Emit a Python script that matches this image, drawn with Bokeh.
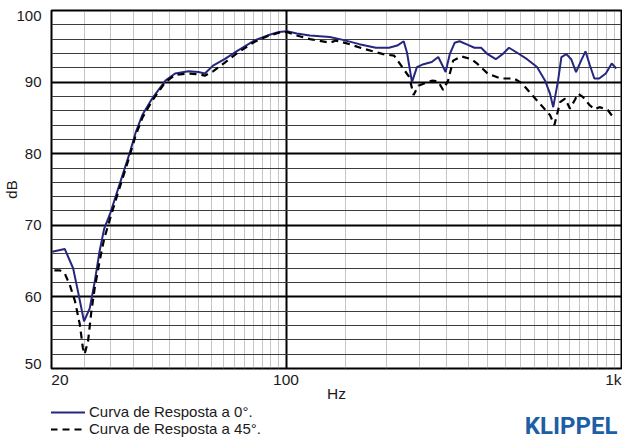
from bokeh.plotting import figure
from bokeh.layouts import column
from bokeh.models import FixedTicker, Legend, LegendItem, Range1d, Label
from bokeh.embed import file_html
from bokeh.resources import INLINE

# ---- data ----
freq_0 = [20.1, 21.9, 23.2, 24.0, 25.0, 26.0, 26.9, 27.8, 28.7, 30.0, 31.8, 34.1, 35.6,
          37.3, 39.9, 43.7, 46.7, 51.2, 54.8, 57.3, 60.6, 65.6, 71.8, 80.4, 87.9, 95.2,
          100.7, 107.7, 117.9, 135, 147.8, 165.4, 185.3, 202.7, 214.6, 224.3, 229.5,
          237.4, 245.6, 256.9, 271.9, 284.3, 294.2, 299, 307.7, 318.4, 329, 348.5,
          364.5, 381.5, 399, 422, 442, 462, 488.6, 523, 560, 592, 612, 626, 647, 662,
          685, 708, 732, 758, 781, 803, 830, 858, 898, 935, 965]
db_0 = [66.3, 66.7, 64.0, 60.7, 56.6, 58.4, 62.1, 66.3, 69.5, 71.8, 75.5, 79.9, 82.9,
        85.4, 87.7, 90.2, 91.2, 91.5, 91.4, 91.2, 92.3, 93.2, 94.4, 95.8, 96.5, 97.0,
        97.1, 96.8, 96.5, 96.3, 95.9, 95.3, 94.8, 94.8, 95.1, 95.7, 94.1,
        90.0, 92.1, 92.5, 92.8, 93.5, 92.1, 91.4, 93.9, 95.5, 95.7, 95.2,
        94.8, 94.8, 93.9, 93.2, 93.9, 94.8, 94.1, 93.2, 92.1, 90.2, 88.4, 86.5, 90.2, 93.5,
        93.9, 93.2, 91.4, 93.0, 94.3, 92.5, 90.5, 90.5, 91.2, 92.6, 91.9]

freq_45 = [20.4, 21.2, 21.9, 22.7, 23.5, 24.3, 24.8, 25.1, 25.7, 26.3, 26.9, 27.8, 28.7,
           30.1, 31.8, 34.1, 35.6, 37.3, 39.9, 43.7, 46.7, 51.2, 54.8, 57.3, 60.6, 65.6,
           71.8, 80.4, 87.9, 95.2, 100.7, 107.7, 117.9, 135, 141, 152, 172, 195, 210,
           233, 240, 248, 272, 284, 294, 304, 315, 333, 357, 373, 399, 437, 478, 506,
           541, 586, 612, 631, 656, 679, 702, 726, 742, 768, 803, 832, 860, 910, 941, 962]
db_45 = [63.7, 63.7, 63.3, 61.6, 59.4, 56.1, 52.9, 52.0, 53.8, 58.0, 61.2, 64.9, 68.1,
         71.4, 75.0, 79.5, 82.5, 85.0, 87.4, 90.0, 91.0, 91.2, 91.1, 90.9, 91.5, 92.7,
         94.1, 95.6, 96.4, 96.9, 97.0, 96.5, 96.0, 95.5, 95.8, 95.4, 94.6, 93.9, 93.7,
         90.7, 88.2, 89.5, 90.2, 90.1, 88.9, 90.2, 93.0, 93.6, 93.2, 92.5, 91.2, 90.5, 90.5, 89.8,
         88.2, 86.4, 85.4, 84.0, 87.2, 87.7, 86.3, 87.5, 88.4, 87.9, 86.8, 86.2, 86.5, 86.1, 85.2, 85.4]

x_range_hz = (20, 1000)
y_range_db = (50, 100)
x_ticks = [20, 100, 1000]
x_tick_labels = ["20", "100", "1k"]
x_major = [100]
x_minor = [25, 30, 35, 40, 45, 50, 55, 60, 65, 70, 75, 80, 85, 90, 95,
           150, 200, 250, 300, 350, 400, 450, 500, 550, 600, 650, 700, 750, 800, 850, 900, 950]
y_ticks = [50, 60, 70, 80, 90, 100]
y_major = [50, 60, 70, 80, 90, 100]
y_minor = [52, 54, 56, 58, 62, 64, 66, 68, 72, 74, 76, 78, 82, 84, 86, 88, 92, 94, 96, 98]

label_0 = "Curva de Resposta a 0°."
label_45 = "Curva de Resposta a 45°."
brand = "KLIPPEL"

FONT = "Liberation Sans"
TXT = "#1a1a1a"
C0 = "#262680"
C45 = "black"
DASH = "7 5"
W = 622
H1, H2 = 404, 33
BL, BR, BT, BB = 42, 1, 10, 34
frame_w = W - BL - BR
frame_h = H1 - BT - BB
px_per_decade = frame_w / 1.69897
px_per_db = frame_h / 50.0

p = figure(width=W, height=H1, x_axis_type="log",
           x_range=Range1d(*x_range_hz), y_range=Range1d(*y_range_db),
           output_backend="svg", toolbar_location=None,
           min_border_left=BL, min_border_right=BR, min_border_top=BT, min_border_bottom=BB)
p.background_fill_color = "white"
p.border_fill_color = "white"
p.outline_line_color = "black"
p.outline_line_width = 2

# grids
p.xgrid.ticker = FixedTicker(ticks=x_major, minor_ticks=x_minor)
p.xgrid.grid_line_color = "black"
p.xgrid.grid_line_width = 2
p.xgrid.minor_grid_line_color = "#8a8a8a"
p.xgrid.minor_grid_line_width = 1
p.xgrid.minor_grid_line_dash = "1 1"
p.ygrid.ticker = FixedTicker(ticks=y_major, minor_ticks=y_minor)
p.ygrid.grid_line_color = "black"
p.ygrid.grid_line_width = 2
p.ygrid.minor_grid_line_color = "#3c3c3c"
p.ygrid.minor_grid_line_width = 1.2

# end labels are kept inside the frame, as in the reference
x_shift = [8.6, 0, -8.2]
x_tick_pos = [t * 10 ** (s / px_per_decade) for t, s in zip(x_ticks, x_shift)]
y_shift = {50: 5.0, 100: -5.8}
y_tick_pos = [t + y_shift.get(t, 0) / px_per_db for t in y_ticks]

# y axis
yax = p.yaxis[0]
yax.ticker = FixedTicker(ticks=y_tick_pos)
yax.major_label_overrides = {v: str(t) for v, t in zip(y_tick_pos, y_ticks)}
yax.major_tick_line_color = None
yax.minor_tick_line_color = None
yax.axis_line_color = None
yax.major_label_standoff = 4
yax.major_label_text_font = FONT
yax.major_label_text_font_size = "15px"
yax.major_label_text_color = TXT
yax.axis_label = "dB"
yax.axis_label_text_font = FONT
yax.axis_label_text_font_style = "normal"
yax.axis_label_text_font_size = "15px"
yax.axis_label_text_color = TXT
yax.axis_label_standoff = -7

# x axis
xax = p.xaxis[0]
xax.ticker = FixedTicker(ticks=x_tick_pos)
xax.major_label_overrides = {v: t for v, t in zip(x_tick_pos, x_tick_labels)}
xax.major_tick_line_color = None
xax.minor_tick_line_color = None
xax.axis_line_color = None
xax.major_label_standoff = -4
xax.major_label_text_font = FONT
xax.major_label_text_font_size = "15.5px"
xax.major_label_text_color = TXT
xax.axis_label = "Hz"
xax.axis_label_text_font = FONT
xax.axis_label_text_font_style = "normal"
xax.axis_label_text_font_size = "15.5px"
xax.axis_label_text_color = TXT
xax.axis_label_standoff = -6

p.line(freq_0, db_0, line_color=C0, line_width=2)
p.line(freq_45, db_45, line_color=C45, line_width=2.2, line_dash=DASH)

# ---- footer strip: legend and logo ----
f = figure(width=W, height=H2, x_range=Range1d(0, 1), y_range=Range1d(0, 1),
           output_backend="svg", toolbar_location=None,
           x_axis_location=None, y_axis_location=None,
           min_border_left=BL, min_border_right=BR, min_border_top=0, min_border_bottom=0)
f.grid.visible = False
f.outline_line_color = None
f.background_fill_color = "white"
f.border_fill_color = "white"
# hidden copies of the two curves, used only as legend keys
k0 = f.line(freq_0, db_0, line_color=C0, line_width=2, visible=False)
k1 = f.line(freq_45, db_45, line_color=C45, line_width=2.2, line_dash=DASH, visible=False)

legend = Legend(items=[LegendItem(label=label_0, renderers=[k0]),
                       LegendItem(label=label_45, renderers=[k1])],
                location=(-1, 0), orientation="vertical")
legend.padding = 0
legend.margin = 0
legend.spacing = 0
legend.glyph_width = 35
legend.glyph_height = 16
legend.label_height = 16
legend.label_standoff = 4
legend.label_text_font = FONT
legend.label_text_font_size = "15px"
legend.label_text_color = TXT
legend.background_fill_alpha = 0
legend.border_line_color = None
legend.inactive_fill_alpha = 0
f.add_layout(legend)

f.add_layout(Label(x=1, y=12, x_units="data", y_units="screen", x_offset=-4, text=brand,
                   text_align="right", text_baseline="middle", text_font="Roboto",
                   text_font_style="bold", text_font_size="24px", text_color="#1d5fa6"))

page = column(p, f, spacing=0)

open("out.html", "w").write(file_html(page, INLINE))
